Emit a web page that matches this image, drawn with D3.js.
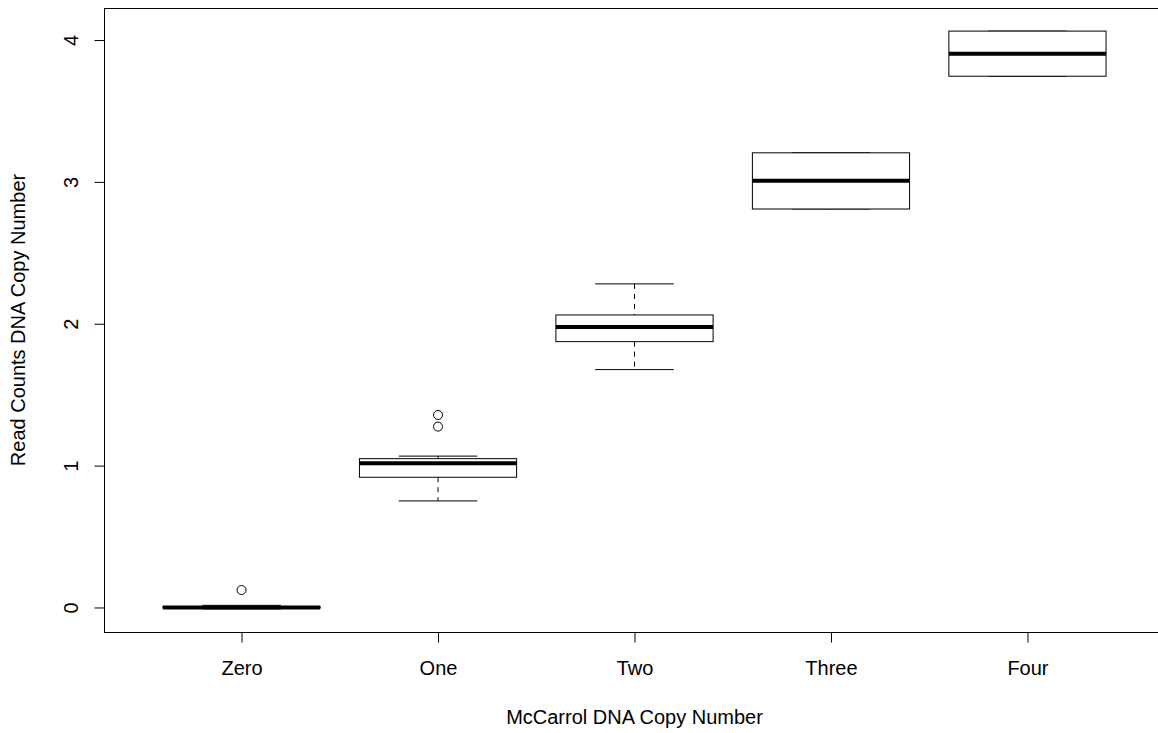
<!DOCTYPE html>
<html>
<head>
<meta charset="utf-8">
<script src="https://cdn.jsdelivr.net/npm/d3@7"></script>
<style>
  body { margin: 0; background: #fff; }
  text { font-family: "Liberation Sans", Arial, sans-serif; fill: #000; }
</style>
</head>
<body>
<svg id="chart" width="1158" height="733"></svg>
<script>
// groups along the x axis
var categories = ["Zero", "One", "Two", "Three", "Four"];

// five-number summaries per group
var lowerWhisker = [-0.01, 0.751, 1.677, 2.809, 3.745];
var lowerQuart   = [-0.004, 0.918, 1.874, 2.809, 3.745];
var medians      = [0.0, 1.016, 1.977, 3.008, 3.904];
var upperQuart   = [0.006, 1.049, 2.062, 3.205, 4.063];
var upperWhisker = [0.015, 1.067, 2.281, 3.205, 4.063];

// outliers: [group index, value]
var outliers = [[0, 0.123], [1, 1.275], [1, 1.357]];

var yTicks = [0, 1, 2, 3, 4];

var xTitle = "McCarrol DNA Copy Number";
var yTitle = "Read Counts DNA Copy Number";

var fontSize = 20;

var svg = d3.select("#chart");
var plot = {left: 104, right: 1165, top: 8, bottom: 632};

// R style 4% padding around the data
var lo = d3.min(lowerWhisker.concat(outliers.map(function(o) { return o[1]; })));
var hi = d3.max(upperWhisker.concat(outliers.map(function(o) { return o[1]; })));
var pad = (hi - lo) * 0.04;

var y = d3.scaleLinear().domain([lo - pad, hi + pad]).range([plot.bottom, plot.top]);
var x = d3.scaleLinear().domain([0.3, categories.length + 0.7]).range([plot.left, plot.right]);

var boxW = x(0.8) - x(0);
var capW = boxW / 2;

var data = categories.map(function(c, i) {
    return {
        name: c, pos: i + 1,
        lw: lowerWhisker[i], q1: lowerQuart[i], med: medians[i],
        q3: upperQuart[i], uw: upperWhisker[i]
    };
});

var g = svg.append("g");

var box = g.selectAll(".box").data(data).enter().append("g").attr("class", "box");

// dashed whiskers
box.append("line")
    .attr("x1", function(d) { return x(d.pos); })
    .attr("x2", function(d) { return x(d.pos); })
    .attr("y1", function(d) { return y(d.uw); })
    .attr("y2", function(d) { return y(d.q3); })
    .attr("stroke", "#000").attr("stroke-dasharray", "5,5");
box.append("line")
    .attr("x1", function(d) { return x(d.pos); })
    .attr("x2", function(d) { return x(d.pos); })
    .attr("y1", function(d) { return y(d.q1); })
    .attr("y2", function(d) { return y(d.lw); })
    .attr("stroke", "#000").attr("stroke-dasharray", "5,5");

// staples
["uw", "lw"].forEach(function(k) {
    box.append("line")
        .attr("x1", function(d) { return x(d.pos) - capW / 2; })
        .attr("x2", function(d) { return x(d.pos) + capW / 2; })
        .attr("y1", function(d) { return y(d[k]); })
        .attr("y2", function(d) { return y(d[k]); })
        .attr("stroke", "#000");
});

box.append("rect")
    .attr("x", function(d) { return x(d.pos) - boxW / 2; })
    .attr("width", boxW)
    .attr("y", function(d) { return y(d.q3); })
    .attr("height", function(d) { return y(d.q1) - y(d.q3); })
    .attr("fill", "#fff").attr("stroke", "#000");

box.append("line")
    .attr("x1", function(d) { return x(d.pos) - boxW / 2; })
    .attr("x2", function(d) { return x(d.pos) + boxW / 2; })
    .attr("y1", function(d) { return y(d.med); })
    .attr("y2", function(d) { return y(d.med); })
    .attr("stroke", "#000").attr("stroke-width", 4);

g.selectAll(".out").data(outliers).enter().append("circle")
    .attr("cx", function(d) { return x(d[0] + 1); })
    .attr("cy", function(d) { return y(d[1]); })
    .attr("r", 4.5)
    .attr("fill", "none").attr("stroke", "#000");

// frame
svg.append("rect")
    .attr("x", plot.left + 0.5).attr("y", plot.top + 0.5)
    .attr("width", plot.right - plot.left).attr("height", plot.bottom - plot.top)
    .attr("fill", "none").attr("stroke", "#000");

// axes
var xAxis = d3.axisBottom(x)
    .tickValues(d3.range(1, categories.length + 1))
    .tickFormat(function(d) { return categories[d - 1]; })
    .tickSize(10).tickPadding(18);
var gx = svg.append("g").attr("transform", "translate(0," + (plot.bottom + 0.5) + ")").call(xAxis);
gx.select(".domain").remove();
gx.selectAll("text").attr("font-size", fontSize).attr("font-family", "Liberation Sans, Arial, sans-serif");

var yAxis = d3.axisLeft(y).tickValues(yTicks).tickSize(10).tickFormat(d3.format("d"));
var gy = svg.append("g").attr("transform", "translate(" + (plot.left + 0.5) + ",0)").call(yAxis);
gy.select(".domain").remove();
gy.selectAll("text")
    .attr("font-size", fontSize).attr("font-family", "Liberation Sans, Arial, sans-serif")
    .attr("text-anchor", "middle")
    .attr("x", 0).attr("dy", 0)
    .attr("transform", "translate(-27,0) rotate(-90)");

svg.append("text")
    .attr("x", (plot.left + plot.right) / 2).attr("y", 724)
    .attr("text-anchor", "middle").attr("font-size", fontSize)
    .text(xTitle);

svg.append("text")
    .attr("transform", "translate(25," + ((plot.top + plot.bottom) / 2) + ") rotate(-90)")
    .attr("text-anchor", "middle").attr("font-size", fontSize)
    .text(yTitle);
</script>
</body>
</html>
